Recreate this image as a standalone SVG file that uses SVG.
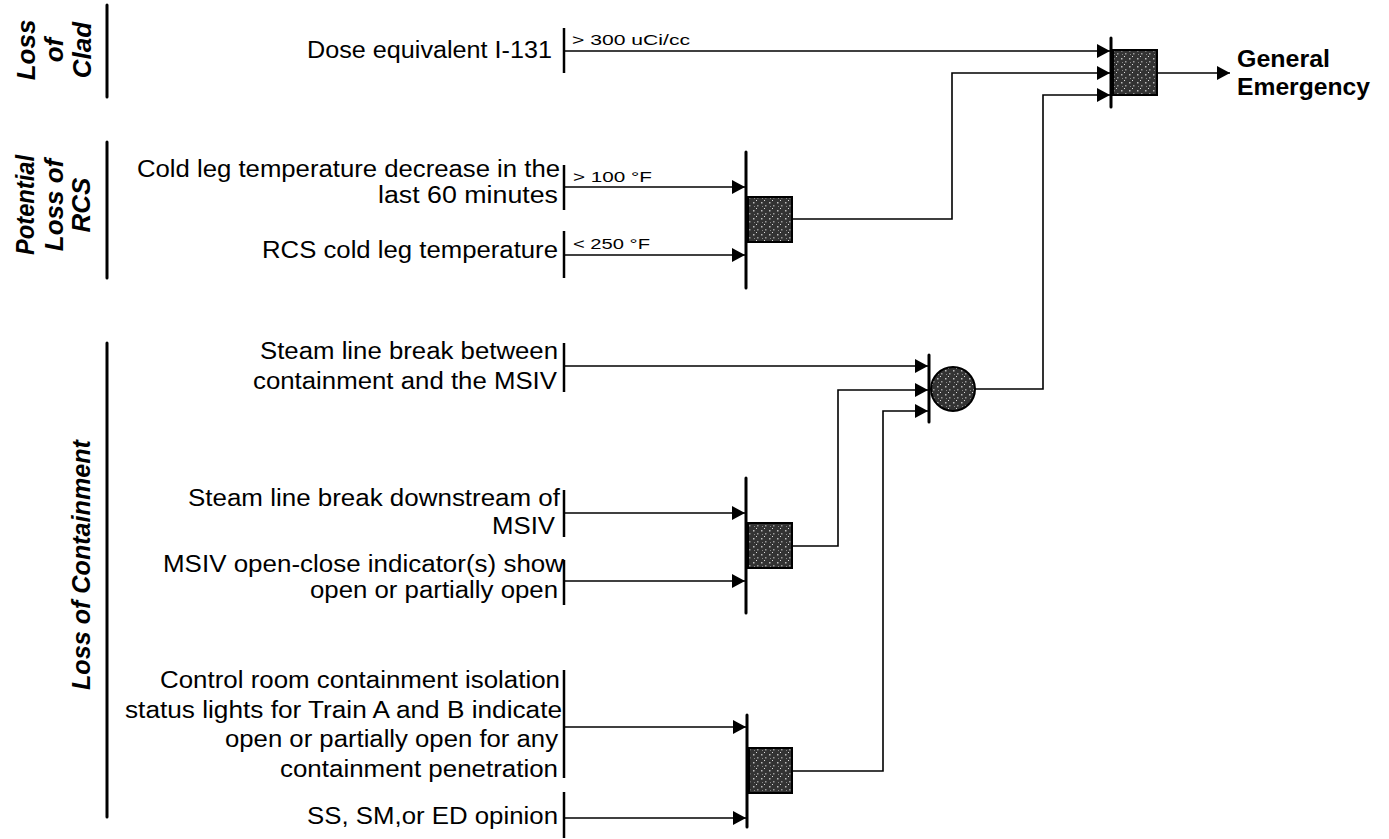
<svg xmlns="http://www.w3.org/2000/svg" width="1389" height="839" viewBox="0 0 1389 839">
<style>
text{font-family:"Liberation Sans",Arial,sans-serif;fill:#000}
.t{font-size:23px;text-anchor:end}
.lbl{font-size:15px}
.side{font-size:26px;font-weight:bold;font-style:italic;text-anchor:middle}
.out{font-size:24px;font-weight:bold}
.bar{stroke:#000;stroke-width:3;fill:none;stroke-linecap:round}
.sbar{stroke:#000;stroke-width:2.5;fill:none}
.con{stroke:#000;stroke-width:1.6;fill:none}
.arr{marker-end:url(#ah)}
.gate{fill:url(#stip);stroke:#000;stroke-width:2}
</style>
<defs>
<marker id="ah" markerUnits="userSpaceOnUse" markerWidth="14" markerHeight="14" refX="13" refY="7" orient="auto">
<path d="M0,0 L13,7 L0,14 Z" fill="#000"/>
</marker>
<pattern id="stip" patternUnits="userSpaceOnUse" width="8" height="8">
<rect width="8" height="8" fill="#333"/>
<rect x="1" y="2" width="1.5" height="1.5" fill="#bbb"/>
<rect x="5" y="5" width="1.5" height="1.5" fill="#999"/>
<rect x="4" y="0" width="1" height="1" fill="#ddd"/>
<rect x="2" y="6" width="1" height="1" fill="#888"/>
</pattern>
</defs>

<g id="side-labels">
<line class="bar" x1="107" y1="5" x2="107" y2="97"/>
<text class="side" transform="translate(35,50) rotate(-90)">Loss</text>
<text class="side" transform="translate(63,50) rotate(-90)">of</text>
<text class="side" transform="translate(91,50) rotate(-90)">Clad</text>
<line class="bar" x1="107" y1="142" x2="107" y2="278"/>
<text class="side" transform="translate(34,205) rotate(-90)" textLength="100" lengthAdjust="spacingAndGlyphs">Potential</text>
<text class="side" transform="translate(63,205) rotate(-90)">Loss of</text>
<text class="side" transform="translate(90,205) rotate(-90)">RCS</text>
<line class="bar" x1="107" y1="343" x2="107" y2="817"/>
<text class="side" transform="translate(90,565) rotate(-90)" textLength="250" lengthAdjust="spacingAndGlyphs">Loss of Containment</text>
</g>

<g id="in-dose">
<text class="t" x="552" y="58" textLength="245" lengthAdjust="spacingAndGlyphs">Dose equivalent I-131</text>
<line class="sbar" x1="564" y1="28" x2="564" y2="73"/>
<text class="lbl" x="572" y="45" textLength="118" lengthAdjust="spacingAndGlyphs">&gt; 300 uCi/cc</text>
</g>
<g id="in-coldleg">
<text class="t" x="560" y="177" textLength="423" lengthAdjust="spacingAndGlyphs">Cold leg temperature decrease in the</text>
<text class="t" x="558" y="203" textLength="180" lengthAdjust="spacingAndGlyphs">last 60 minutes</text>
<line class="sbar" x1="564" y1="165" x2="564" y2="210"/>
<text class="lbl" x="573" y="182" textLength="79" lengthAdjust="spacingAndGlyphs">&gt; 100 °F</text>
</g>
<g id="in-rcstemp">
<text class="t" x="558" y="258" textLength="296" lengthAdjust="spacingAndGlyphs">RCS cold leg temperature</text>
<line class="sbar" x1="564" y1="231" x2="564" y2="278"/>
<text class="lbl" x="573" y="249" textLength="77" lengthAdjust="spacingAndGlyphs">&lt; 250 °F</text>
</g>
<g id="in-steam-between">
<text class="t" x="558" y="359" textLength="298" lengthAdjust="spacingAndGlyphs">Steam line break between</text>
<text class="t" x="557" y="389" textLength="304" lengthAdjust="spacingAndGlyphs">containment and the MSIV</text>
<line class="sbar" x1="564" y1="343" x2="564" y2="392"/>
</g>
<g id="in-steam-downstream">
<text class="t" x="560" y="506" textLength="372" lengthAdjust="spacingAndGlyphs">Steam line break downstream of</text>
<text class="t" x="555" y="534" textLength="63" lengthAdjust="spacingAndGlyphs">MSIV</text>
<line class="sbar" x1="564" y1="490" x2="564" y2="537"/>
</g>
<g id="in-msiv-indicator">
<text class="t" x="564" y="572" textLength="401" lengthAdjust="spacingAndGlyphs">MSIV open-close indicator(s) show</text>
<text class="t" x="558" y="598" textLength="248" lengthAdjust="spacingAndGlyphs">open or partially open</text>
<line class="sbar" x1="564" y1="560" x2="564" y2="605"/>
</g>
<g id="in-control-room">
<text class="t" x="560" y="688" textLength="400" lengthAdjust="spacingAndGlyphs">Control room containment isolation</text>
<text class="t" x="562" y="718" textLength="437" lengthAdjust="spacingAndGlyphs">status lights for Train A and B indicate</text>
<text class="t" x="558" y="747" textLength="333" lengthAdjust="spacingAndGlyphs">open or partially open for any</text>
<text class="t" x="558" y="777" textLength="278" lengthAdjust="spacingAndGlyphs">containment penetration</text>
<line class="sbar" x1="564" y1="670" x2="564" y2="778"/>
</g>
<g id="in-opinion">
<text class="t" x="558" y="824" textLength="251" lengthAdjust="spacingAndGlyphs">SS, SM,or ED opinion</text>
<line class="sbar" x1="564" y1="792" x2="564" y2="838"/>
</g>

<g id="gate-rcs">
<line class="bar" x1="746" y1="152" x2="746" y2="288"/>
<rect class="gate" x="748" y="197" width="44" height="45"/>
</g>
<g id="gate-msiv">
<line class="bar" x1="746" y1="478" x2="746" y2="613"/>
<rect class="gate" x="748" y="523" width="44" height="45"/>
</g>
<g id="gate-isolation">
<line class="bar" x1="747" y1="715" x2="747" y2="827"/>
<rect class="gate" x="749" y="748" width="43" height="45"/>
</g>
<g id="gate-or">
<line class="bar" x1="929" y1="355" x2="929" y2="422"/>
<circle class="gate" cx="953" cy="389" r="22"/>
</g>
<g id="gate-ge">
<line class="bar" x1="1111" y1="38" x2="1111" y2="107"/>
<rect class="gate" x="1113" y="50" width="44" height="45"/>
</g>
<g id="out-ge">
<text class="out" x="1237" y="67" textLength="93" lengthAdjust="spacingAndGlyphs">General</text>
<text class="out" x="1237" y="95" textLength="133" lengthAdjust="spacingAndGlyphs">Emergency</text>
</g>

<g id="connectors">
<path class="con arr" d="M565,51 H1110"/>
<path class="con arr" d="M565,187 H745"/>
<path class="con arr" d="M565,255 H745"/>
<path class="con arr" d="M792,219 H952 V73 H1110"/>
<path class="con arr" d="M565,366 H928"/>
<path class="con arr" d="M565,513 H745"/>
<path class="con arr" d="M565,581 H745"/>
<path class="con arr" d="M792,546 H838 V390 H928"/>
<path class="con arr" d="M565,727 H746"/>
<path class="con arr" d="M565,818 H746"/>
<path class="con arr" d="M792,771 H883 V411 H928"/>
<path class="con arr" d="M975,389 H1043 V95 H1110"/>
<path class="con arr" d="M1157,73 H1230"/>
</g>
</svg>
